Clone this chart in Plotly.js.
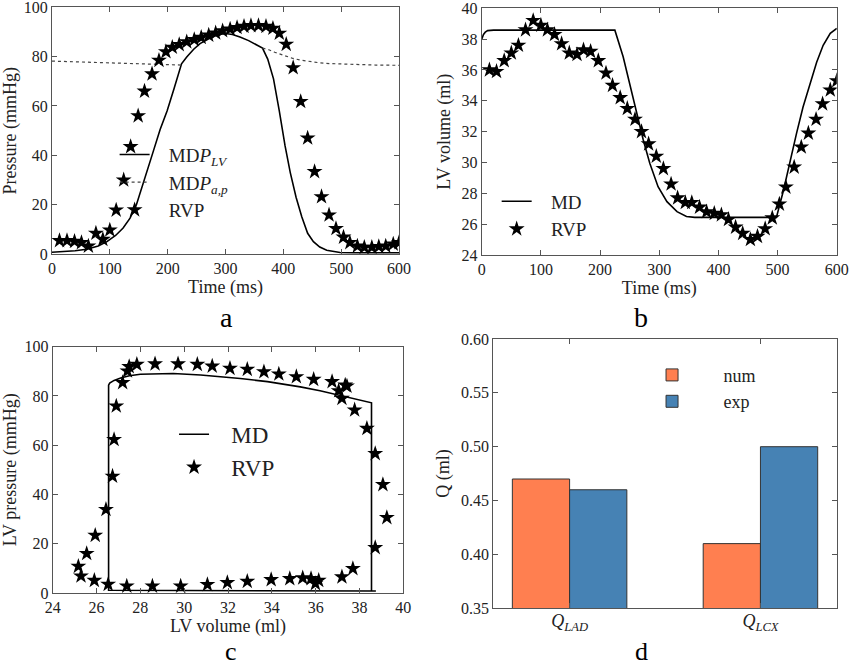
<!DOCTYPE html>
<html>
<head>
<meta charset="utf-8">
<script src="https://cdn.plot.ly/plotly-3.0.1.min.js"></script>
<style>html,body{margin:0;padding:0;background:#fff;}#chart{width:849px;height:668px;}</style>
</head>
<body>
<div id="chart"></div>
<script>
// ---------- Panel a: pressure vs time ----------
const aRvpTime = [13,26,39,51,63,76,88,100,111,124,136,149,160,173,185,197,208,220,233,246,258,271,283,295,308,320,332,344,357,370,382,393,405,417,430,442,454,466,479,491,504,515,528,540,553,565,577,590,600];
const aRvpP = [5.4,5.4,5.1,4.6,3.2,8.4,5.9,9.7,17.8,30,43.5,56,66,73,78.5,82,83.8,84.9,86,86.9,87.8,88.7,89.6,90.5,91.2,91.8,92.3,92.6,92.6,92.3,91.5,89.5,85,75.5,61.8,47,33.4,23.2,15.8,10.3,6.8,4.6,3.2,2.7,2.7,3,3.2,4,4.6];
const aLvTime = [0,20,40,60,80,95,110,123,135,146,160,175,187,199,211,224,233,245,256,268,279,290,300,312,325,340,357,364,373,383,393,403,412,422,432,442,452,463,475,487,498,520,560,600];
const aLvP = [0.7,0.9,1.3,1.9,3.2,5,7.5,10.5,14.5,20,30,41.5,50.5,58,67,77.1,79.9,83,85.3,87,88.3,89,89.4,89,88,86.5,84.6,83.5,79,71,58,43.8,33,23,15,8.4,5,2.8,1.5,0.9,0.6,0.5,0.5,0.5];
const aApTime = [0,50,100,150,200,224,null,364,375,385,395,405,415,430,445,460,480,500,530,560,600];
const aApP = [78.2,77.9,77.5,77.2,76.8,76.6,null,83.5,82.8,81.8,80.9,80.1,79.4,78.6,78.0,77.6,77.2,77.0,76.8,76.6,76.5];

// ---------- Panel b: LV volume vs time ----------
const bRvpTime = [13,25,38,50,62,74,87,100,111,123,135,148,161,172,184,197,210,221,234,246,259,270,282,295,307,320,331,344,355,368,380,393,405,417,429,441,454,466,479,491,503,514,528,540,552,565,576,589,600];
const bRvpV = [36.0,35.9,36.6,37.1,37.6,38.6,39.2,38.9,38.6,38.3,37.7,37.1,37.0,37.3,37.2,36.6,35.8,35.0,34.2,33.5,32.8,32.0,31.2,30.4,29.6,28.6,27.7,27.4,27.4,27.1,26.8,26.7,26.6,26.3,25.8,25.4,25.0,25.2,25.7,26.4,27.3,28.4,29.7,31.0,31.9,32.8,33.8,34.7,35.3];
const bMdTime = [0,3,6,10,20,100,225,239,251,262,273,284,298,313,330,346,360,400,450,498,510,521,532,543,555,566,577,589,600];
const bMdV = [38.0,38.3,38.45,38.55,38.58,38.58,38.58,36.86,34.92,33.08,31.46,29.95,28.43,27.46,26.81,26.49,26.44,26.44,26.44,26.44,28.2,30.16,31.89,33.6,35.1,36.5,37.6,38.38,38.7];

// ---------- Panel c: PV loop ----------
const cRvpV = [25.17,25.29,25.55,25.94,25.9,26.43,26.53,26.73,26.8,26.9,27.19,27.41,27.49,27.84,27.38,28.55,28.67,29.84,29.72,30.6,31.06,31.28,32.09,31.97,32.88,32.88,33.64,33.97,34.32,34.82,35.12,35.41,35.91,35.79,35.99,36.14,36.75,37.05,37.2,37.35,37.43,37.2,37.7,37.78,38.34,38.72,38.72,39.07,39.25];
const cRvpP = [10.8,6.9,16,23.4,5.1,33.9,3.5,47.4,62.3,75.9,85.4,90.1,91.9,92.8,2.8,2.8,93,2.8,93,92.8,3.4,92.1,91.2,4.2,90.8,4.7,89.8,5.4,88.9,5.8,87.8,6.1,86.7,5.8,3.8,5.1,85.8,82.1,79,84.4,84,6.5,9.9,74.3,66.8,56.6,18.4,44,30.6];
const cMdV = [38.0,38.55,38.55,37.8,37.1,36.2,35.3,34.5,33.8,32.56,31.5,30.75,29.5,28.5,28.0,27.5,27.1,26.8,26.6,26.55,26.55,30,34,38.75];
const cMdP = [0.8,0.8,77.2,78.8,80.4,82.1,83.7,84.8,85.8,87.1,88.0,88.5,89.1,89.1,88.8,88.2,87.3,86.3,85.2,84.4,1.1,1.0,0.9,0.8];

// ---------- Panel d: flow bars ----------
const dCategories = ['<i>Q</i><sub><i>LAD</i></sub>', '<i>Q</i><sub><i>LCX</i></sub>'];
const dNum = [0.47, 0.41];
const dExp = [0.46, 0.50];

const FONT = 'Liberation Serif, DejaVu Serif, serif';
const TXT = '#222';
const LINE = '#555';
const GAP = '\u00a0\u00a0\u00a0';
const GAPD = '\u00a0\u00a0\u00a0\u00a0\u00a0\u00a0\u00a0';
const star = {symbol: 'star', size: 12, color: '#000'};

function ax(extra) {
  return Object.assign({
    showline: true, linecolor: LINE, linewidth: 1, mirror: 'ticks',
    ticks: 'inside', ticklen: 5, tickcolor: LINE, showgrid: false, zeroline: false,
    ticklabeloverflow: 'allow',
    tickfont: {family: FONT, size: 16, color: TXT}
  }, extra);
}

const traces = [
  {x: aLvTime, y: aLvP, mode: 'lines', line: {color: '#000', width: 1.6}, name: GAP + 'MD<i>P</i><sub><i>LV</i></sub>', xaxis: 'x', yaxis: 'y', legend: 'legend'},
  {x: aApTime, y: aApP, mode: 'lines', line: {color: '#444', width: 1.2, dash: 'dot'}, connectgaps: false, name: GAP + 'MD<i>P</i><sub><i>a,p</i></sub>', xaxis: 'x', yaxis: 'y', legend: 'legend'},
  {x: aRvpTime, y: aRvpP, mode: 'markers', marker: star, name: GAP + 'RVP', xaxis: 'x', yaxis: 'y', legend: 'legend'},

  {x: bMdTime, y: bMdV, mode: 'lines', line: {color: '#000', width: 1.6}, name: GAP + 'MD', xaxis: 'x2', yaxis: 'y2', legend: 'legend2'},
  {x: bRvpTime, y: bRvpV, mode: 'markers', marker: star, name: GAP + 'RVP', xaxis: 'x2', yaxis: 'y2', legend: 'legend2'},

  {x: cMdV, y: cMdP, mode: 'lines', line: {color: '#000', width: 1.6}, name: GAP + 'MD', xaxis: 'x3', yaxis: 'y3', legend: 'legend3'},
  {x: cRvpV, y: cRvpP, mode: 'markers', marker: star, name: GAP + 'RVP', xaxis: 'x3', yaxis: 'y3', legend: 'legend3'},

  {x: dCategories, y: dNum, type: 'bar', name: GAPD + 'num', marker: {color: '#FF7F50', line: {color: '#333', width: 1}}, xaxis: 'x4', yaxis: 'y4', legend: 'legend4'},
  {x: dCategories, y: dExp, type: 'bar', name: GAPD + 'exp', marker: {color: '#4682B4', line: {color: '#333', width: 1}}, xaxis: 'x4', yaxis: 'y4', legend: 'legend4'}
];

function leg(x, y, size) {
  return {x: x, y: y, xanchor: 'left', yanchor: 'top', bgcolor: 'rgba(0,0,0,0)', borderwidth: 0,
    font: {family: FONT, size: size, color: TXT}, itemwidth: 30, tracegroupgap: 0};
}
function ttl(text, standoff) { return {text: text, font: {family: FONT, size: 18, color: TXT}, standoff: standoff}; }

const layout = {
  width: 849, height: 668,
  margin: {l: 0, r: 0, t: 0, b: 0},
  paper_bgcolor: '#fff', plot_bgcolor: '#fff',
  showlegend: true,
  barmode: 'group', bargap: 0.4, bargroupgap: 0,
  xaxis: ax({domain: [0.0612, 0.470], anchor: 'y', range: [0, 600], dtick: 100, title: ttl('Time (ms)', 4)}),
  yaxis: ax({domain: [0.6198, 0.989], anchor: 'x', range: [0, 100], dtick: 20, title: ttl('Pressure (mmHg)', 6)}),
  xaxis2: ax({domain: [0.5674, 0.9856], anchor: 'y2', range: [0, 600], dtick: 100, title: ttl('Time (ms)', 4)}),
  yaxis2: ax({domain: [0.6183, 0.9876], anchor: 'x2', range: [24, 40], dtick: 2, title: ttl('LV volume (ml)', 6)}),
  xaxis3: ax({domain: [0.0621, 0.475], anchor: 'y3', range: [24, 40], dtick: 2, title: ttl('LV volume (ml)', 4)}),
  yaxis3: ax({domain: [0.1123, 0.4810], anchor: 'x3', range: [0, 100], dtick: 20, title: ttl('LV pressure (mmHg)', 6)}),
  xaxis4: ax({domain: [0.5810, 0.9856], anchor: 'y4', range: [-0.4, 1.4], ticklabelstandoff: -4, tickfont: {family: FONT, size: 18, color: TXT}}),
  yaxis4: ax({domain: [0.0895, 0.4925], anchor: 'x4', range: [0.35, 0.60], dtick: 0.05, tickformat: '.2f', title: ttl('Q (ml)', 6)}),
  legend: leg(0.135, 0.797, 19),
  legend2: leg(0.585, 0.727, 19),
  legend3: leg(0.205, 0.382, 23),
  legend4: leg(0.768, 0.466, 18),
  annotations: [
    {text: 'a', x: 0.257, y: 0.524, yanchor: 'middle', xref: 'paper', yref: 'paper', showarrow: false, font: {family: FONT, size: 28, color: '#000'}},
    {text: 'b', x: 0.766, y: 0.524, yanchor: 'middle', xref: 'paper', yref: 'paper', showarrow: false, font: {family: FONT, size: 28, color: '#000'}},
    {text: 'c', x: 0.263, y: 0.025, yanchor: 'middle', xref: 'paper', yref: 'paper', showarrow: false, font: {family: FONT, size: 26, color: '#000'}},
    {text: 'd', x: 0.766, y: 0.025, yanchor: 'middle', xref: 'paper', yref: 'paper', showarrow: false, font: {family: FONT, size: 26, color: '#000'}}
  ]
};

Plotly.newPlot('chart', traces, layout, {displayModeBar: false, staticPlot: true});
</script>
</body>
</html>
